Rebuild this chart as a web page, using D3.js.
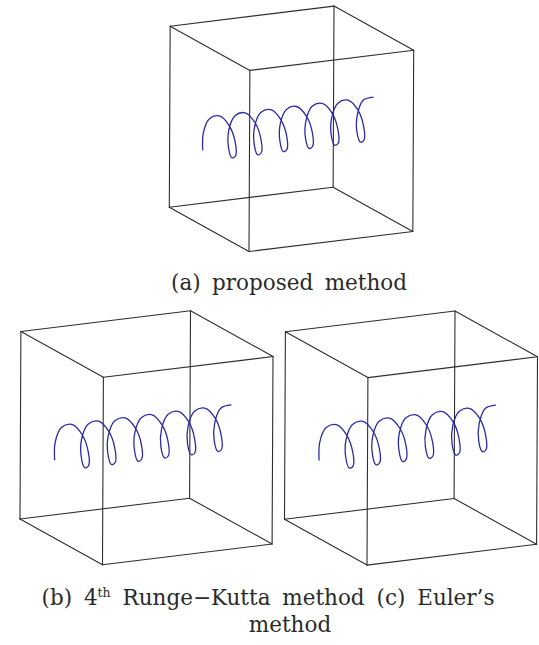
<!DOCTYPE html>
<html>
<head>
<meta charset="utf-8">
<script src="https://cdn.jsdelivr.net/npm/d3@7/dist/d3.min.js"></script>
<style>
  html, body { margin: 0; padding: 0; background: #fff; }
  svg { display: block; }
  .cap { font-family: "DejaVu Serif", "Liberation Serif", serif; fill: #2a2a2a; }
</style>
</head>
<body>
<svg id="chart" width="539" height="645"></svg>
<script>
// Particle trajectory in normalized box coordinates, sampled every eighth of a turn.
// axial: along the helix axis, depth: front/back, height: up/down.
const trajAxial = [
  0.000, 0.020, 0.039, 0.059, 0.078, 0.098, 0.118, 0.137,
  0.157, 0.176, 0.196, 0.216, 0.235, 0.255, 0.275, 0.294,
  0.314, 0.333, 0.353, 0.373, 0.392, 0.412, 0.431, 0.451,
  0.471, 0.490, 0.510, 0.529, 0.549, 0.569, 0.588, 0.608,
  0.627, 0.647, 0.667, 0.686, 0.706, 0.725, 0.745, 0.765,
  0.784, 0.804, 0.824, 0.843, 0.863, 0.882, 0.902, 0.922,
  0.941, 0.961, 0.980, 1.000
];
const trajDepth = [
  0.415, 0.380, 0.415, 0.500, 0.585, 0.620, 0.585, 0.500,
  0.415, 0.380, 0.415, 0.500, 0.585, 0.620, 0.585, 0.500,
  0.415, 0.380, 0.415, 0.500, 0.585, 0.620, 0.585, 0.500,
  0.415, 0.380, 0.415, 0.500, 0.585, 0.620, 0.585, 0.500,
  0.415, 0.380, 0.415, 0.500, 0.585, 0.620, 0.585, 0.500,
  0.415, 0.380, 0.415, 0.500, 0.585, 0.620, 0.585, 0.500,
  0.415, 0.380, 0.415, 0.500
];
const trajHeight = [
  0.415, 0.500, 0.585, 0.620, 0.585, 0.500, 0.415, 0.380,
  0.415, 0.500, 0.585, 0.620, 0.585, 0.500, 0.415, 0.380,
  0.415, 0.500, 0.585, 0.620, 0.585, 0.500, 0.415, 0.380,
  0.415, 0.500, 0.585, 0.620, 0.585, 0.500, 0.415, 0.380,
  0.415, 0.500, 0.585, 0.620, 0.585, 0.500, 0.415, 0.380,
  0.415, 0.500, 0.585, 0.620, 0.585, 0.500, 0.415, 0.380,
  0.415, 0.500, 0.585, 0.620
];
const panelLabels = ["(a)", "(b)", "(c)"];
const methodNames = ["proposed method", "Runge\u2212Kutta method", "Euler\u2019s method"];
const boxDomain = [0, 1];

const svg = d3.select("#chart");

// Oblique view: screen direction of one box unit along each axis
const view = {
  depth:  [82.5, 45.8],
  axial:  [169.6, -20.8],
  height: [0.9, -187.5]
};

// Panel placement: origin = left-back-bottom corner of each box, plus size factor
const panels = [
  { origin: [169.3, 207.3], size: 0.966 },
  { origin: [20.0, 519.0],  size: 1.0 },
  { origin: [284.5, 519.3], size: 1.0 }
];

const points = trajAxial.map((a, i) => ({ a, d: trajDepth[i], h: trajHeight[i] }));

panels.forEach(p => {
  const sA = d3.scaleLinear().domain(boxDomain).range([0, p.size]);
  const sD = d3.scaleLinear().domain(boxDomain).range([0, p.size]);
  const sH = d3.scaleLinear().domain(boxDomain).range([0, p.size]);
  const proj = (a, d, h) => [
    p.origin[0] + sD(d) * view.depth[0] + sA(a) * view.axial[0] + sH(h) * view.height[0],
    p.origin[1] + sD(d) * view.depth[1] + sA(a) * view.axial[1] + sH(h) * view.height[1]
  ];

  const g = svg.append("g");

  // wireframe box: all 12 edges
  const [lo, hi] = boxDomain;
  const corners = [];
  [lo, hi].forEach(a => [lo, hi].forEach(d => [lo, hi].forEach(h => corners.push({ a, d, h }))));
  const edges = [];
  corners.forEach((c1, i) => corners.forEach((c2, j) => {
    if (j <= i) return;
    const diff = (c1.a !== c2.a) + (c1.d !== c2.d) + (c1.h !== c2.h);
    if (diff === 1) edges.push([c1, c2]);
  }));
  g.selectAll("line.edge").data(edges).join("line")
    .attr("class", "edge")
    .attr("x1", e => proj(e[0].a, e[0].d, e[0].h)[0])
    .attr("y1", e => proj(e[0].a, e[0].d, e[0].h)[1])
    .attr("x2", e => proj(e[1].a, e[1].d, e[1].h)[0])
    .attr("y2", e => proj(e[1].a, e[1].d, e[1].h)[1])
    .attr("stroke", "#2e2e2e")
    .attr("stroke-width", 1.1)
    .attr("stroke-linecap", "round");

  // trajectory
  const line = d3.line()
    .x(q => proj(q.a, q.d, q.h)[0])
    .y(q => proj(q.a, q.d, q.h)[1])
    .curve(d3.curveCatmullRom.alpha(0.5));
  g.append("path")
    .datum(points)
    .attr("d", line)
    .attr("fill", "none")
    .attr("stroke", "#2a2aa8")
    .attr("stroke-width", 1.3);
});

// captions: spread the words so each line fills its measured width
function fitWords(sel, width, spaces) {
  const natural = sel.node().getComputedTextLength();
  sel.style("word-spacing", Math.max(0, (width - natural) / spaces) + "px");
}

const t1 = svg.append("text").attr("class", "cap")
  .attr("x", 289).attr("y", 290)
  .attr("text-anchor", "middle")
  .style("font-size", "21.5px")
  .text(panelLabels[0] + " " + methodNames[0]);
fitWords(t1, 236, 2);

const t2 = svg.append("text").attr("class", "cap")
  .attr("x", 268).attr("y", 605)
  .attr("text-anchor", "middle")
  .style("font-size", "21.5px");
t2.append("tspan").text(panelLabels[1] + " 4");
t2.append("tspan").attr("dy", -8).style("font-size", "12.5px").text("th");
t2.append("tspan").attr("dy", 8).text(" " + methodNames[1] + " " + panelLabels[2] + " " + methodNames[2].split(" ")[0]);
fitWords(t2, 453, 5);

svg.append("text").attr("class", "cap")
  .attr("x", 290).attr("y", 632)
  .attr("text-anchor", "middle")
  .style("font-size", "21.5px")
  .text(methodNames[2].split(" ")[1]);
</script>
</body>
</html>
